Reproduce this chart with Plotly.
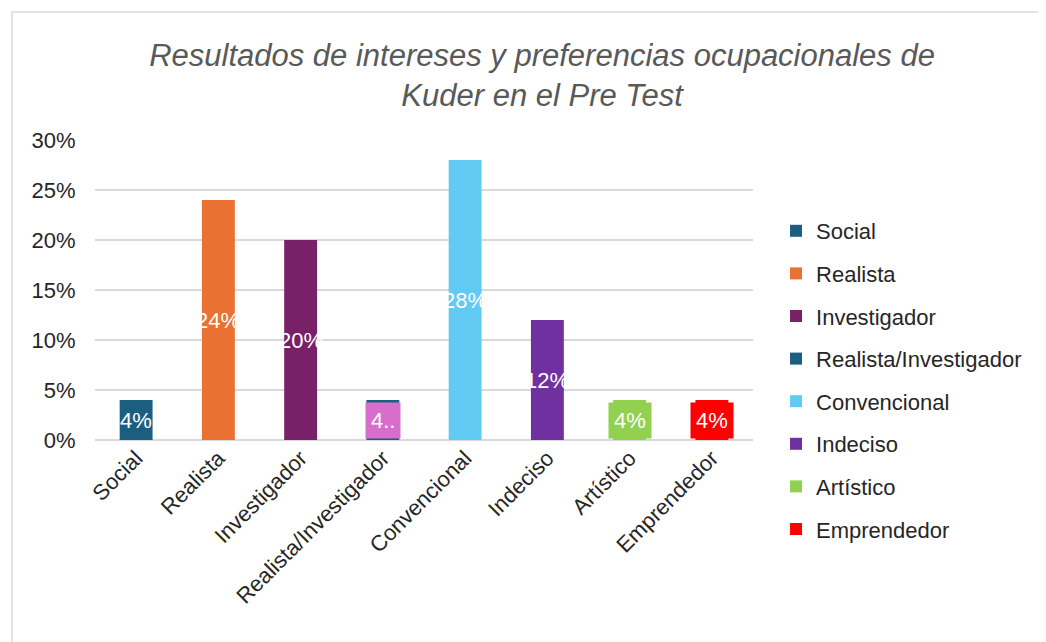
import plotly.graph_objects as go

categorias = ['Social', 'Realista', 'Investigador', 'Realista/Investigador',
              'Convencional', 'Indeciso', 'Artístico', 'Emprendedor']
valores = [0.04, 0.24, 0.20, 0.04, 0.28, 0.12, 0.04, 0.04]
etiquetas = ['4%', '24%', '20%', '4..', '28%', '12%', '4%', '4%']
colores = ['#1B5E80', '#E97132', '#782168', '#1B5E80',
           '#61CBF3', '#7030A0', '#92D050', '#FF0000']
# fondo de la etiqueta de datos (None = sin recuadro)
fondos = [None, None, None, '#D86ECC', None, None, '#92D050', '#FF0000']

fuente = 'Liberation Sans, Arial'

fig = go.Figure()
for i, cat in enumerate(categorias):
    fig.add_trace(go.Bar(x=[cat], y=[valores[i]], name=cat, width=0.4,
                         marker=dict(color=colores[i], line=dict(width=0)),
                         legendgroup=f'g{i}'))
    fig.add_annotation(x=cat, y=valores[i] / 2, text=etiquetas[i], showarrow=False,
                       font=dict(family=fuente, size=22, color='white'),
                       bgcolor=fondos[i] if fondos[i] else 'rgba(0,0,0,0)',
                       borderpad=5 if fondos[i] else 0)

# borde del área del gráfico
fig.add_shape(type='rect', xref='paper', yref='paper', x0=-0.1261, x1=1.46, y0=-0.75, y1=1.4267,
              line=dict(color='#D9D9D9', width=1.5), fillcolor='rgba(0,0,0,0)', layer='below')

fig.update_layout(
    width=1038, height=634,
    margin=dict(l=87, r=293, t=132, b=202),
    paper_bgcolor='white', plot_bgcolor='white',
    barmode='overlay',
    font=dict(family=fuente, size=22, color='#262626'),
    title=dict(text='Resultados de intereses y preferencias ocupacionales de<br>Kuder en el Pre Test',
               x=0.5145, xref='container', xanchor='center', y=0.909, yref='container', yanchor='middle',
               font=dict(family=fuente, size=31, color='#595959', style='italic')),
    xaxis=dict(tickangle=-45, showgrid=False, showline=False, ticks='',
               tickfont=dict(size=22, color='#262626')),
    yaxis=dict(range=[0, 0.30], dtick=0.05, tickformat='.0%', gridcolor='#D9D9D9', gridwidth=1.5,
               zeroline=True, zerolinecolor='#D9D9D9', zerolinewidth=1.5, showline=False,
               ticks='outside', ticklen=14, tickcolor='rgba(0,0,0,0)',
               tickfont=dict(size=22, color='#262626')),
    legend=dict(x=1.035, xanchor='left', y=0.2, yanchor='middle', tracegroupgap=11,
                font=dict(size=22, color='#262626'), itemwidth=30, maxheight=600),
    showlegend=True,
)

fig.write_html('out.html')
